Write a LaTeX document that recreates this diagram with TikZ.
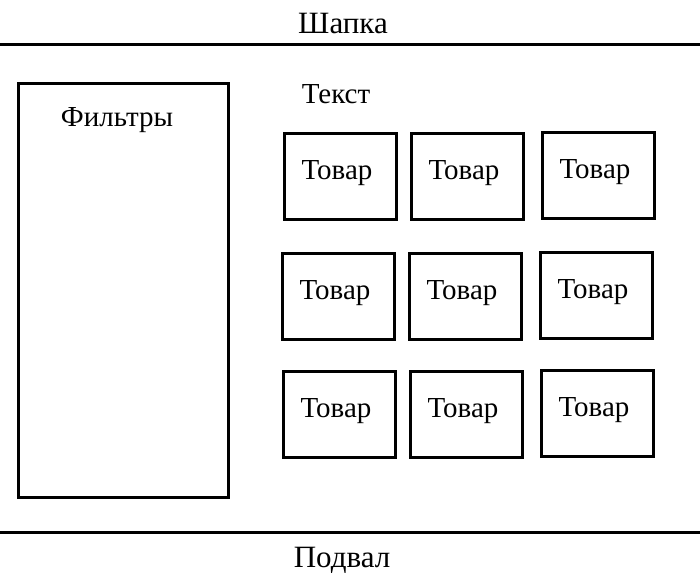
\documentclass[tikz,border=0pt]{standalone}
\usepackage{fontspec}
\setmainfont{Liberation Serif}
\begin{document}
\begin{tikzpicture}[x=1pt,y=-1pt,
  box/.style={draw=black,line width=3pt},
  lbl/.style={font=\fontsize{29}{33}\selectfont,inner sep=0pt},
  hdr/.style={font=\fontsize{31}{35}\selectfont,inner sep=0pt},
  rule/.style={draw=black,line width=3pt}]
\useasboundingbox (0,0) rectangle (700,583);
\fill[white] (0,0) rectangle (700,583);
\node[hdr] (head) at (343,24) {Шапка};
\node[hdr] (foot) at (342,560) {Подвал};
\coordinate (tl) at (0,45); \coordinate (tr) at (700,45);
\coordinate (bl) at (0,532); \coordinate (br) at (700,532);
\draw[rule] (tl) -- (tr);
\draw[rule] (bl) -- (br);
\draw[box] (18,84) rectangle (228,497);
\node[lbl] (filt) at (117,120) {Фильтры};
\node[lbl] (txt) at (336,94) {Текст};
\foreach \x/\y [count=\i] in {284/133,411/133,542/132,282/253,409/253,540/252,283/371,410/371,541/370}{
  \draw[box] (\x,\y) rectangle ++(112,86);
  \node[lbl] (t\i) at (\x+53,\y+40) {Товар};
}
\end{tikzpicture}
\end{document}
